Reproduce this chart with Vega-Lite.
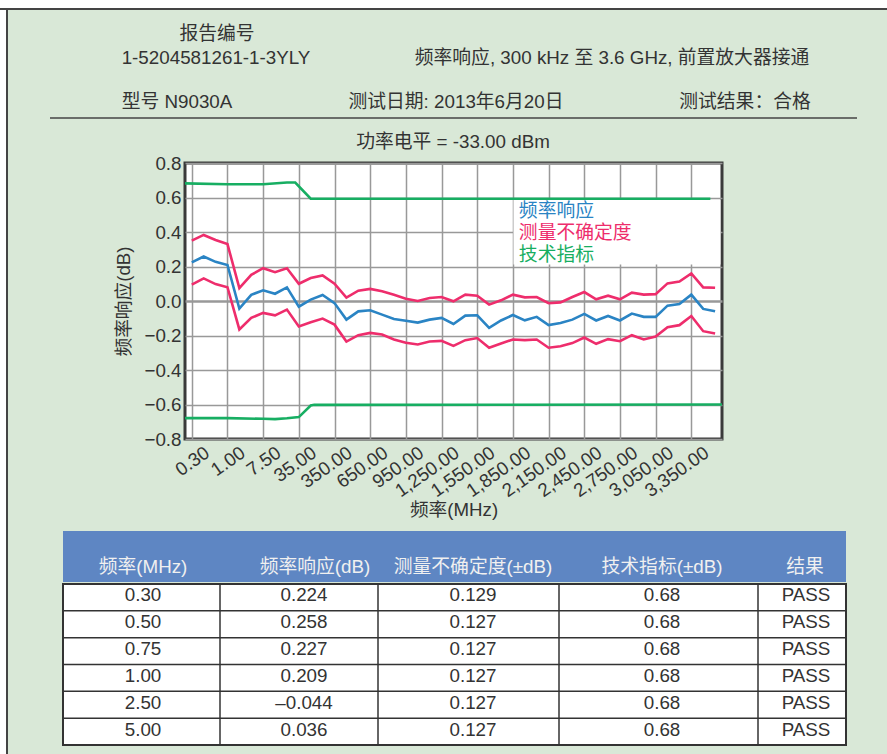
{
"$schema":"https://vega.github.io/schema/vega-lite/v6.json",
"padding":0,"background":"#d9e8d7","spacing":0,
"config":{"view":{"stroke":null},"concat":{"spacing":0},"font":"Liberation Sans, Noto Sans CJK SC",
 "text":{"font":"Liberation Sans, Noto Sans CJK SC","fontSize":18.8,"color":"#333333"}},
"datasets":{
"meas":[
{"i":0,"freq":"0.30","r":0.224,"u":0.35,"l":0.095},
{"i":1,"freq":"0.50","r":0.258,"u":0.383,"l":0.131},
{"i":2,"freq":"0.75","r":0.227,"u":0.354,"l":0.098},
{"i":3,"freq":"1.00","r":0.209,"u":0.33,"l":0.08},
{"i":4,"freq":"2.50","r":-0.044,"u":0.075,"l":-0.165},
{"i":5,"freq":"5.00","r":0.036,"u":0.152,"l":-0.098},
{"i":6,"freq":"7.50","r":0.062,"u":0.19,"l":-0.069},
{"i":7,"freq":"10.00","r":0.042,"u":0.167,"l":-0.083},
{"i":8,"freq":"20.00","r":0.079,"u":0.19,"l":-0.05},
{"i":9,"freq":"35.00","r":-0.033,"u":0.1,"l":-0.148},
{"i":10,"freq":"50.00","r":0.008,"u":0.133,"l":-0.123},
{"i":11,"freq":"100.00","r":0.035,"u":0.148,"l":-0.102},
{"i":12,"freq":"350.00","r":-0.012,"u":0.1,"l":-0.137},
{"i":13,"freq":"450.00","r":-0.108,"u":0.02,"l":-0.235},
{"i":14,"freq":"550.00","r":-0.06,"u":0.06,"l":-0.198},
{"i":15,"freq":"650.00","r":-0.054,"u":0.07,"l":-0.185},
{"i":16,"freq":"750.00","r":-0.079,"u":0.056,"l":-0.194},
{"i":17,"freq":"850.00","r":-0.104,"u":0.036,"l":-0.223},
{"i":18,"freq":"950.00","r":-0.115,"u":0.013,"l":-0.242},
{"i":19,"freq":"1,050.00","r":-0.125,"u":0.0,"l":-0.252},
{"i":20,"freq":"1,150.00","r":-0.108,"u":0.017,"l":-0.235},
{"i":21,"freq":"1,250.00","r":-0.098,"u":0.023,"l":-0.231},
{"i":22,"freq":"1,350.00","r":-0.133,"u":-0.002,"l":-0.26},
{"i":23,"freq":"1,450.00","r":-0.085,"u":0.037,"l":-0.227},
{"i":24,"freq":"1,550.00","r":-0.083,"u":0.031,"l":-0.215},
{"i":25,"freq":"1,650.00","r":-0.156,"u":-0.021,"l":-0.271},
{"i":26,"freq":"1,750.00","r":-0.113,"u":0.004,"l":-0.246},
{"i":27,"freq":"1,850.00","r":-0.081,"u":0.037,"l":-0.223},
{"i":28,"freq":"1,950.00","r":-0.112,"u":0.021,"l":-0.227},
{"i":29,"freq":"2,050.00","r":-0.092,"u":0.023,"l":-0.223},
{"i":30,"freq":"2,150.00","r":-0.14,"u":-0.013,"l":-0.271},
{"i":31,"freq":"2,250.00","r":-0.127,"u":-0.008,"l":-0.262},
{"i":32,"freq":"2,350.00","r":-0.108,"u":0.023,"l":-0.244},
{"i":33,"freq":"2,450.00","r":-0.075,"u":0.052,"l":-0.212},
{"i":34,"freq":"2,550.00","r":-0.113,"u":0.01,"l":-0.248},
{"i":35,"freq":"2,650.00","r":-0.087,"u":0.031,"l":-0.221},
{"i":36,"freq":"2,750.00","r":-0.113,"u":0.01,"l":-0.233},
{"i":37,"freq":"2,850.00","r":-0.073,"u":0.048,"l":-0.198},
{"i":38,"freq":"2,950.00","r":-0.092,"u":0.037,"l":-0.223},
{"i":39,"freq":"3,050.00","r":-0.092,"u":0.04,"l":-0.206},
{"i":40,"freq":"3,150.00","r":-0.027,"u":0.102,"l":-0.152},
{"i":41,"freq":"3,250.00","r":-0.017,"u":0.113,"l":-0.14},
{"i":42,"freq":"3,350.00","r":0.037,"u":0.16,"l":-0.087},
{"i":43,"freq":"3,450.00","r":-0.046,"u":0.079,"l":-0.175},
{"i":44,"freq":"3,550.00","r":-0.06,"u":0.077,"l":-0.188}],
"limit":[
{"i":-0.57,"side":"upper","v":0.682},{"i":3,"side":"upper","v":0.677},{"i":6,"side":"upper","v":0.677},{"i":8,"side":"upper","v":0.687},{"i":8.7,"side":"upper","v":0.687},{"i":10,"side":"upper","v":0.593},{"i":43.6,"side":"upper","v":0.593},
{"i":-0.57,"side":"lower","v":-0.679},{"i":3,"side":"lower","v":-0.679},{"i":6,"side":"lower","v":-0.683},{"i":7,"side":"lower","v":-0.685},{"i":8,"side":"lower","v":-0.68},{"i":9,"side":"lower","v":-0.673},{"i":10,"side":"lower","v":-0.606},{"i":10.3,"side":"lower","v":-0.602},{"i":44.58,"side":"lower","v":-0.6}],
"legendText":[{"name":"频率响应","pos":0.522},{"name":"测量不确定度","pos":0.394},{"name":"技术指标","pos":0.267}],
"heads":[{"col":0,"t":"频率(MHz)"},{"col":1,"t":"频率响应(dB)"},{"col":2,"t":"测量不确定度(±dB)"},{"col":3,"t":"技术指标(±dB)"},{"col":4,"t":"结果"}],
"edges":[{"e":1},{"e":2},{"e":3},{"e":4}],
"rowLines":[{"row":"0.50"},{"row":"0.75"},{"row":"1.00"},{"row":"2.50"},{"row":"5.00"}],
"cells":[
{"row":"0.30","col":0,"t":"0.30"},{"row":"0.30","col":1,"t":"0.224"},{"row":"0.30","col":2,"t":"0.129"},{"row":"0.30","col":3,"t":"0.68"},{"row":"0.30","col":4,"t":"PASS"},
{"row":"0.50","col":0,"t":"0.50"},{"row":"0.50","col":1,"t":"0.258"},{"row":"0.50","col":2,"t":"0.127"},{"row":"0.50","col":3,"t":"0.68"},{"row":"0.50","col":4,"t":"PASS"},
{"row":"0.75","col":0,"t":"0.75"},{"row":"0.75","col":1,"t":"0.227"},{"row":"0.75","col":2,"t":"0.127"},{"row":"0.75","col":3,"t":"0.68"},{"row":"0.75","col":4,"t":"PASS"},
{"row":"1.00","col":0,"t":"1.00"},{"row":"1.00","col":1,"t":"0.209"},{"row":"1.00","col":2,"t":"0.127"},{"row":"1.00","col":3,"t":"0.68"},{"row":"1.00","col":4,"t":"PASS"},
{"row":"2.50","col":0,"t":"2.50"},{"row":"2.50","col":1,"t":"–0.044"},{"row":"2.50","col":2,"t":"0.127"},{"row":"2.50","col":3,"t":"0.68"},{"row":"2.50","col":4,"t":"PASS"},
{"row":"5.00","col":0,"t":"5.00"},{"row":"5.00","col":1,"t":"0.036"},{"row":"5.00","col":2,"t":"0.127"},{"row":"5.00","col":3,"t":"0.68"},{"row":"5.00","col":4,"t":"PASS"}],
"info":[
{"slot":0,"line":0,"t":"报告编号"},
{"slot":1,"line":1,"t":"1-5204581261-1-3YLY"},
{"slot":2,"line":1,"t":"频率响应, 300 kHz 至 3.6 GHz, 前置放大器接通"},
{"slot":3,"line":2,"t":"型号 N9030A"},
{"slot":4,"line":2,"t":"测试日期: 2013年6月20日"},
{"slot":5,"line":2,"t":"测试结果：合格"},
{"slot":6,"line":4,"t":"功率电平 = -33.00 dBm"}],
"divider":[{"from":7,"to":8,"line":3}],
"none":[]
},
"vconcat":[
{"width":887,"height":8,"view":{"fill":"#ffffff"},"data":{"name":"none"},"mark":"point"},
{"width":887,"height":2,"view":{"fill":"#444444"},"data":{"name":"none"},"mark":"point"},
{"spacing":0,"hconcat":[
 {"width":6,"height":744,"view":{"fill":"#ffffff"},"data":{"name":"none"},"mark":"point"},
 {"width":2,"height":744,"view":{"fill":"#444444"},"data":{"name":"none"},"mark":"point"},
 {"spacing":0,"vconcat":[
  {"width":879,"height":138,"layer":[
   {"data":{"name":"info"},"mark":{"type":"text","align":"center","baseline":"middle"},
    "encoding":{"x":{"field":"slot","type":"quantitative","axis":null,"scale":{"domain":[0,1,2,3,4,5,6,7,8],"range":[209,208,604,169,448,737,445,42,849]}},
     "y":{"field":"line","type":"quantitative","axis":null,"scale":{"domain":[0,1,2,3,4],"range":[24,48,92,108,132]}},
     "text":{"field":"t"}}},
   {"data":{"name":"divider"},"mark":{"type":"rule","color":"#444444","strokeWidth":1.5},
    "encoding":{"x":{"field":"from","type":"quantitative","axis":null,"scale":{"domain":[0,1,2,3,4,5,6,7,8],"range":[209,208,604,169,448,737,445,42,849]}},
     "x2":{"field":"to"},
     "y":{"field":"line","type":"quantitative","axis":null,"scale":{"domain":[0,1,2,3,4],"range":[24,48,92,108,132]}}}}
  ]},
  {"spacing":0,"hconcat":[
   {"width":105,"height":10,"data":{"name":"none"},"mark":"point"},
   {"width":537,"height":276,"view":{"fill":"#ffffff","stroke":"#3a3a3a","strokeWidth":3},
    "encoding":{"x":{"type":"quantitative","scale":{"domain":[-0.57,44.58],"nice":false,"zero":false},
      "axis":{"values":[0,3,6,9,12,15,18,21,24,27,30,33,36,39,42],"tickCount":15,"title":"频率(MHz)","titleFont":"Liberation Sans, Noto Sans CJK SC","titleFontSize":18.7,"titleFontWeight":"normal","titleColor":"#333333","titlePadding":0,
       "labelExpr":"['0.30','1.00','7.50','35.00','350.00','650.00','950.00','1,250.00','1,550.00','1,850.00','2,150.00','2,450.00','2,750.00','3,050.00','3,350.00'][datum.value/3]",
       "labelAngle":-35,"labelAlign":"right","labelBaseline":"top","labelOffset":10,"labelFontSize":18.8,"labelColor":"#333333","labelOverlap":false,"labelFlush":false,"labelPadding":4,
       "domain":false,"ticks":false,"grid":true,"gridColor":"#999999","gridWidth":1.5}}},
    "layer":[
     {"data":{"values":[{"a":27.05,"b":44.45,"c":0.585,"d":0.212}]},"mark":{"type":"rect","fill":"#ffffff"},
      "encoding":{"x":{"field":"a"},"x2":{"field":"b"},
       "y":{"field":"c","type":"quantitative","scale":{"domain":[-0.8,0.8],"nice":false},
        "axis":{"values":[-0.8,-0.6,-0.4,-0.2,0,0.2,0.4,0.6,0.8],"tickCount":9,"title":"频率响应(dB)","titleFont":"Liberation Sans, Noto Sans CJK SC","titleFontSize":18.7,"titleFontWeight":"normal","titleColor":"#333333","titlePadding":10,
         "labelExpr":"replace(format(datum.value,'.1f'),'-','–')","labelFontSize":18.8,"labelColor":"#333333","labelPadding":4,"labelOverlap":false,"labelFlush":false,"domain":false,"ticks":false,"grid":true,"gridColor":"#999999",
         "gridWidth":{"condition":{"test":"datum.value===0","value":2.5},"value":1.5}}},
       "y2":{"field":"d"}}},
     {"data":{"name":"limit"},"mark":{"type":"line","color":"#17ae62","strokeWidth":2.6},
      "encoding":{"x":{"field":"i"},"y":{"field":"v","type":"quantitative"},"detail":{"field":"side"}}},
     {"data":{"name":"meas"},"mark":{"type":"line","color":"#ee2d6c","strokeWidth":2.6},
      "encoding":{"x":{"field":"i"},"y":{"field":"u","type":"quantitative"}}},
     {"data":{"name":"meas"},"mark":{"type":"line","color":"#ee2d6c","strokeWidth":2.6},
      "encoding":{"x":{"field":"i"},"y":{"field":"l","type":"quantitative"}}},
     {"data":{"name":"meas"},"mark":{"type":"line","color":"#2a84c4","strokeWidth":2.6},
      "encoding":{"x":{"field":"i"},"y":{"field":"r","type":"quantitative"}}},
     {"data":{"name":"legendText"},"mark":{"type":"text","align":"left","baseline":"middle"},
      "encoding":{"x":{"datum":27.5},"y":{"field":"pos","type":"quantitative"},"text":{"field":"name"},
       "color":{"field":"name","type":"nominal","legend":null,"scale":{"domain":["频率响应","测量不确定度","技术指标"],"range":["#2a84c4","#ee2d6c","#17ae62"]}}}}
    ]}
  ]},
  {"width":879,"height":10,"data":{"name":"none"},"mark":"point"},
  {"spacing":0,"hconcat":[
   {"width":53,"height":214,"data":{"name":"none"},"mark":"point"},
   {"spacing":0,"vconcat":[
    {"width":783,"height":51,"view":{"fill":"#5e86c3"},"data":{"name":"heads"},"mark":{"type":"text","color":"#f0f0f0","baseline":"middle","dy":10},
     "encoding":{"x":{"field":"col","type":"quantitative","axis":null,"scale":{"domain":[0,1,2,3,4],"range":[80,252,410,599,742]}},"text":{"field":"t"}}},
    {"width":783,"height":161,"view":{"fill":"#ffffff","stroke":"#333333","strokeWidth":2},"layer":[
     {"data":{"name":"edges"},"mark":{"type":"rule","color":"#333333","strokeWidth":1.5},
      "encoding":{"x":{"field":"e","type":"quantitative","axis":null,"scale":{"domain":[1,2,3,4],"range":[157,315,496,695]}}}},
     {"data":{"name":"rowLines"},"mark":{"type":"rule","color":"#333333","strokeWidth":1.5},
      "encoding":{"y":{"field":"row","type":"nominal","bandPosition":0,"axis":null,"scale":{"type":"band","domain":["0.30","0.50","0.75","1.00","2.50","5.00"],"paddingInner":0,"paddingOuter":0}}}},
     {"data":{"name":"cells"},"mark":{"type":"text","baseline":"middle","dy":-2},
      "encoding":{"x":{"field":"col","type":"quantitative","axis":null,"scale":{"domain":[0,1,2,3,4],"range":[80,241,410,599,743]}},
       "y":{"field":"row","type":"nominal","axis":null,"scale":{"type":"band","domain":["0.30","0.50","0.75","1.00","2.50","5.00"],"paddingInner":0,"paddingOuter":0}},
       "text":{"field":"t"}}}
    ],"resolve":{"scale":{"x":"independent"}}}
   ]}
  ]}
 ]}
]}
]}
